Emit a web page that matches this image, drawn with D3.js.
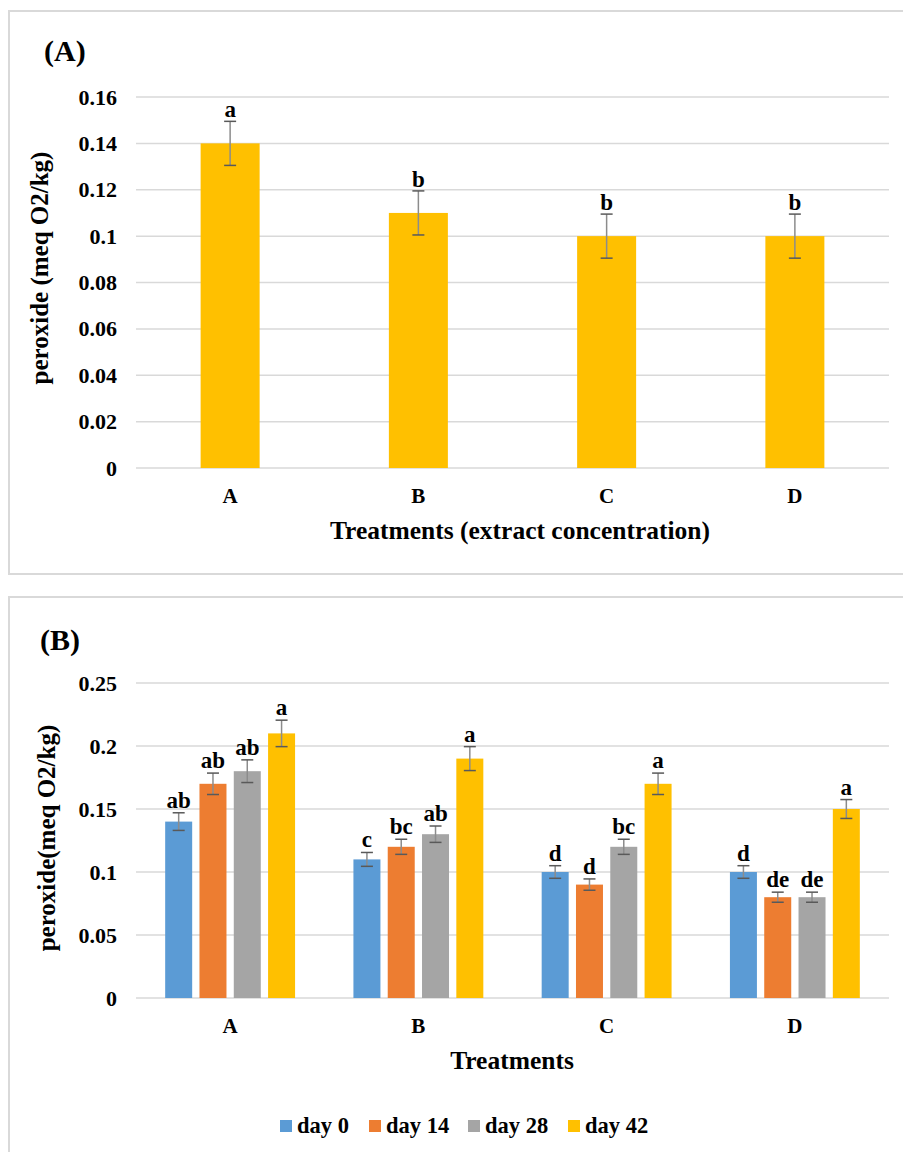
<!DOCTYPE html>
<html>
<head>
<meta charset="utf-8">
<script src="https://cdn.jsdelivr.net/npm/d3@7"></script>
<style>
  html, body { margin: 0; padding: 0; background: #fff; }
  svg { display: block; }
</style>
</head>
<body>
<svg id="chart" width="903" height="1152"></svg>
<script>
// Panel A: peroxide by treatment
const treatments = ["A", "B", "C", "D"];
const peroxideA = [0.14, 0.11, 0.10, 0.10];
const errorA = [0.0095, 0.0095, 0.0095, 0.0095];
const lettersA = ["a", "b", "b", "b"];
const ticksA = [0, 0.02, 0.04, 0.06, 0.08, 0.1, 0.12, 0.14, 0.16];

// Panel B: peroxide by treatment and storage day
const days = ["day 0", "day 14", "day 28", "day 42"];
const day0 = [0.14, 0.11, 0.10, 0.10];
const day14 = [0.17, 0.12, 0.09, 0.08];
const day28 = [0.18, 0.13, 0.12, 0.08];
const day42 = [0.21, 0.19, 0.17, 0.15];
const err0 = [0.007, 0.0055, 0.005, 0.005];
const err14 = [0.0085, 0.006, 0.0045, 0.004];
const err28 = [0.009, 0.0065, 0.006, 0.004];
const err42 = [0.0105, 0.0095, 0.0085, 0.0075];
const letters0 = ["ab", "c", "d", "d"];
const letters14 = ["ab", "bc", "d", "de"];
const letters28 = ["ab", "ab", "bc", "de"];
const letters42 = ["a", "a", "a", "a"];
const ticksB = [0, 0.05, 0.1, 0.15, 0.2, 0.25];
const dayColors = ["#5B9BD5", "#ED7D31", "#A5A5A5", "#FFC000"];

const FONT = "'Liberation Serif', 'DejaVu Serif', 'Times New Roman', serif";
const svg = d3.select("#chart")
  .attr("font-family", FONT).attr("font-weight", "bold").attr("fill", "#000");
const gridColor = "#d9d9d9";
const errColor = "#595959";

function label(parent, x, y, size, str, anchor) {
  return parent.append("text").attr("x", x).attr("y", y)
    .style("font-family", FONT).style("font-weight", "bold")
    .attr("font-size", size).attr("text-anchor", anchor || "start").attr("fill", "#000")
    .text(str);
}

// panel frames
svg.append("rect").attr("x", 9).attr("y", 11).attr("width", 900).attr("height", 563)
  .attr("fill", "none").attr("stroke", gridColor).attr("stroke-width", 2);
svg.append("rect").attr("x", 9).attr("y", 597).attr("width", 900).attr("height", 600)
  .attr("fill", "none").attr("stroke", gridColor).attr("stroke-width", 2);

function drawErrorBar(g, cx, yTop, yBot) {
  g.append("line").attr("x1", cx).attr("x2", cx).attr("y1", yTop).attr("y2", yBot)
    .attr("stroke", "#8c8c8c").attr("stroke-width", 1.5);
  [yTop, yBot].forEach(y => {
    g.append("line").attr("x1", cx - 6).attr("x2", cx + 6).attr("y1", y).attr("y2", y)
      .attr("stroke", errColor).attr("stroke-width", 1.5);
  });
}

function drawAxes(g, y, ticks, x0, x1, fmt) {
  ticks.forEach(t => {
    g.append("line").attr("x1", x0).attr("x2", x1)
      .attr("y1", y(t)).attr("y2", y(t))
      .attr("stroke", gridColor).attr("stroke-width", 1.5);
    label(g, 117, y(t) + 7.5, 22, fmt(t), "end");
  });
}

const fmtTick = d => d === 0 ? "0" : String(+d.toFixed(2));

// ---------- Panel A ----------
{
  const g = svg.append("g");
  const x = d3.scaleBand().domain(treatments).range([136, 889]);
  const y = d3.scaleLinear().domain([0, 0.16]).range([468, 97]);
  drawAxes(g, y, ticksA, 136, 889, fmtTick);

  const bw = 59;
  treatments.forEach((t, i) => {
    const cx = x(t) + x.bandwidth() / 2;
    g.append("rect").attr("x", cx - bw / 2).attr("y", y(peroxideA[i]))
      .attr("width", bw).attr("height", y(0) - y(peroxideA[i])).attr("fill", "#FFC000");
    const yTop = y(peroxideA[i] + errorA[i]);
    drawErrorBar(g, cx, yTop, y(peroxideA[i] - errorA[i]));
    label(g, cx, yTop - 4, 23, lettersA[i], "middle");
    label(g, cx, 503, 21, t, "middle");
  });

  label(svg, 44, 61, 30, "(A)");
  label(svg, 520, 539, 25.5, "Treatments (extract concentration)", "middle");
  label(svg, 0, 0, 25, "peroxide (meq O2/kg)", "middle")
    .attr("transform", "translate(48,268) rotate(-90)");
}

// ---------- Panel B ----------
{
  const g = svg.append("g");
  const x = d3.scaleBand().domain(treatments).range([136, 889]);
  const y = d3.scaleLinear().domain([0, 0.25]).range([998, 683]);
  drawAxes(g, y, ticksB, 136, 889, fmtTick);

  const series = [day0, day14, day28, day42];
  const errs = [err0, err14, err28, err42];
  const letters = [letters0, letters14, letters28, letters42];
  const step = 34.3, bw = 27;

  treatments.forEach((t, i) => {
    const gc = x(t) + x.bandwidth() / 2;
    days.forEach((dname, j) => {
      const cx = gc + (j - 1.5) * step;
      const v = series[j][i], e = errs[j][i];
      g.append("rect").attr("x", cx - bw / 2).attr("y", y(v))
        .attr("width", bw).attr("height", y(0) - y(v)).attr("fill", dayColors[j]);
      const yTop = y(v + e);
      drawErrorBar(g, cx, yTop, y(v - e));
      label(g, cx, yTop - 5, 23, letters[j][i], "middle");
    });
    label(g, gc, 1033, 21, t, "middle");
  });

  label(svg, 40, 650, 30, "(B)");
  label(svg, 512, 1069, 25.5, "Treatments", "middle");
  label(svg, 0, 0, 25, "peroxide(meq O2/kg)", "middle")
    .attr("transform", "translate(55,838) rotate(-90)");

  // legend
  const legendX = [280, 369, 468, 568];
  const lg = svg.append("g");
  days.forEach((dname, j) => {
    lg.append("rect").attr("x", legendX[j]).attr("y", 1120).attr("width", 12).attr("height", 12)
      .attr("fill", dayColors[j]);
    label(lg, legendX[j] + 17, 1133, 22.5, dname);
  });
}
</script>
</body>
</html>
